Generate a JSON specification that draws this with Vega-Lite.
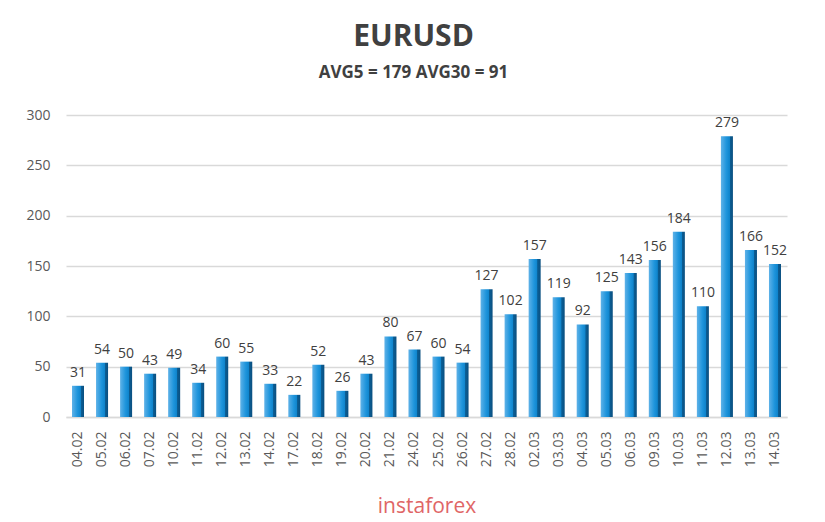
{
  "$schema": "https://vega.github.io/schema/vega-lite/v6.json",
  "width": 721,
  "height": 302,
  "autosize": {"type": "none"},
  "padding": {"left": 66, "top": 115, "right": 38, "bottom": 105},
  "background": "white",
  "title": {
    "text": "EURUSD",
    "subtitle": "AVG5 = 179 AVG30 = 91",
    "anchor": "middle",
    "dx": -13,
    "font": "Open Sans",
    "fontSize": 30,
    "fontWeight": "bold",
    "color": "#404040",
    "subtitleFont": "Open Sans",
    "subtitleFontSize": 17,
    "subtitleFontWeight": "bold",
    "subtitleColor": "#404040",
    "subtitlePadding": 13,
    "offset": 27
  },
  "data": {
    "values": [
      {"date": "04.02", "value": 31},
      {"date": "05.02", "value": 54},
      {"date": "06.02", "value": 50},
      {"date": "07.02", "value": 43},
      {"date": "10.02", "value": 49},
      {"date": "11.02", "value": 34},
      {"date": "12.02", "value": 60},
      {"date": "13.02", "value": 55},
      {"date": "14.02", "value": 33},
      {"date": "17.02", "value": 22},
      {"date": "18.02", "value": 52},
      {"date": "19.02", "value": 26},
      {"date": "20.02", "value": 43},
      {"date": "21.02", "value": 80},
      {"date": "24.02", "value": 67},
      {"date": "25.02", "value": 60},
      {"date": "26.02", "value": 54},
      {"date": "27.02", "value": 127},
      {"date": "28.02", "value": 102},
      {"date": "02.03", "value": 157},
      {"date": "03.03", "value": 119},
      {"date": "04.03", "value": 92},
      {"date": "05.03", "value": 125},
      {"date": "06.03", "value": 143},
      {"date": "09.03", "value": 156},
      {"date": "10.03", "value": 184},
      {"date": "11.03", "value": 110},
      {"date": "12.03", "value": 279},
      {"date": "13.03", "value": 166},
      {"date": "14.03", "value": 152}
    ]
  },
  "encoding": {
    "x": {
      "field": "date",
      "type": "ordinal",
      "sort": null,
      "scale": {"paddingInner": 0.5, "paddingOuter": 0.25},
      "axis": {
        "title": "instaforex",
        "titleFont": "Open Sans",
        "titleFontSize": 21,
        "titleFontWeight": "normal",
        "titleColor": "#e06666",
        "titlePadding": 29,
        "labelAngle": -90,
        "labelFont": "Open Sans",
        "labelFontSize": 14,
        "labelColor": "#595959",
        "labelPadding": 14,
        "ticks": false,
        "domain": true,
        "domainColor": "#d9d9d9",
        "domainWidth": 1.5
      }
    },
    "y": {
      "field": "value",
      "type": "quantitative",
      "scale": {"domain": [0, 300]},
      "axis": {
        "title": null,
        "values": [0, 50, 100, 150, 200, 250, 300],
        "labelFont": "Open Sans",
        "labelFontSize": 14,
        "labelColor": "#595959",
        "labelPadding": 16,
        "ticks": false,
        "domain": false,
        "grid": true,
        "gridColor": "#d9d9d9",
        "gridWidth": 1.5
      }
    }
  },
  "layer": [
    {
      "mark": {
        "type": "bar",
        "color": {
          "gradient": "linear",
          "x1": 0, "y1": 0, "x2": 1, "y2": 0,
          "stops": [
            {"offset": 0, "color": "#5fb2e8"},
            {"offset": 0.45, "color": "#1f95dc"},
            {"offset": 0.72, "color": "#0f84cc"},
            {"offset": 0.74, "color": "#0b5f96"},
            {"offset": 1, "color": "#0a4f80"}
          ]
        }
      }
    },
    {
      "mark": {
        "type": "text",
        "baseline": "alphabetic",
        "dy": -9,
        "font": "Open Sans",
        "fontSize": 14,
        "color": "#404040"
      },
      "encoding": {"text": {"field": "value", "type": "quantitative"}}
    }
  ],
  "config": {"view": {"stroke": null}}
}
